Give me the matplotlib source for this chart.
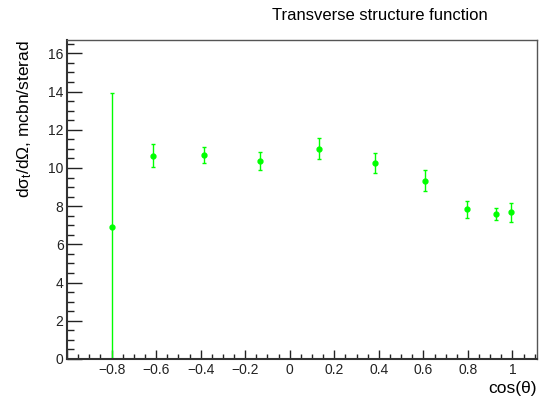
import numpy as np
import matplotlib
matplotlib.use("Agg")
import matplotlib.pyplot as plt
from matplotlib.ticker import MultipleLocator, FuncFormatter

plt.rcParams["font.family"] = ["Liberation Sans", "DejaVu Sans"]
plt.rcParams["mathtext.fontset"] = "custom"
plt.rcParams["mathtext.rm"] = "Liberation Sans"
plt.rcParams["mathtext.it"] = "Liberation Sans:italic"

# data
cos_theta = [-0.80, -0.614, -0.386, -0.133, 0.130, 0.383, 0.609, 0.795, 0.927, 0.994]
sigma_t = [6.93, 10.65, 10.67, 10.38, 11.00, 10.26, 9.33, 7.83, 7.57, 7.68]
sigma_err = [7.0, 0.60, 0.42, 0.48, 0.55, 0.52, 0.54, 0.45, 0.31, 0.49]

fig = plt.figure(figsize=(5.5, 4.05), dpi=100)
ax = fig.add_axes([67 / 550, 1 - 359 / 405, 470 / 550, 319 / 405])

ax.errorbar(cos_theta, sigma_t, yerr=sigma_err, fmt="o", color="#00ff00",
            markersize=3.5, elinewidth=1.0, capsize=1.5, capthick=1.0)

ax.set_xlim(-1.0, 1.11)
ax.set_ylim(0, 16.7)

ax.xaxis.set_major_locator(MultipleLocator(0.2))
ax.xaxis.set_minor_locator(MultipleLocator(0.05))
ax.yaxis.set_major_locator(MultipleLocator(2))
ax.yaxis.set_minor_locator(MultipleLocator(0.5))


def fmt(v, pos):
    if abs(v) < 1e-9:
        return "0"
    if v < -0.9:
        return ""
    return f"{v:g}".replace("-", "\u2212")


ax.xaxis.set_major_formatter(FuncFormatter(fmt))
ax.yaxis.set_major_formatter(FuncFormatter(lambda v, p: f"{v:g}"))

ax.tick_params(axis="both", which="both", direction="in", colors="#222222",
               top=False, right=False, labelsize=10, width=1.0)
ax.tick_params(axis="y", which="major", length=10.8, pad=2.5)
ax.tick_params(axis="y", which="minor", length=5.2)
ax.tick_params(axis="x", which="major", length=6.5, pad=3)
ax.tick_params(axis="x", which="minor", length=3.4)

for s in ["left", "bottom"]:
    ax.spines[s].set_linewidth(1.5)
    ax.spines[s].set_color("#333333")
for s in ["top", "right"]:
    ax.spines[s].set_linewidth(1.0)
    ax.spines[s].set_color("#555555")

ax.set_xlabel("cos(θ)", fontsize=12.5, loc="right", labelpad=3)
ax.set_ylabel("dσ$_{\\rm t}$/dΩ, mcbn/sterad", fontsize=12.5, loc="top", labelpad=10)

fig.text(380 / 550, 1 - 15 / 405, "Transverse structure function",
         ha="center", va="center", fontsize=12)

fig.savefig("out.png", dpi=100)
